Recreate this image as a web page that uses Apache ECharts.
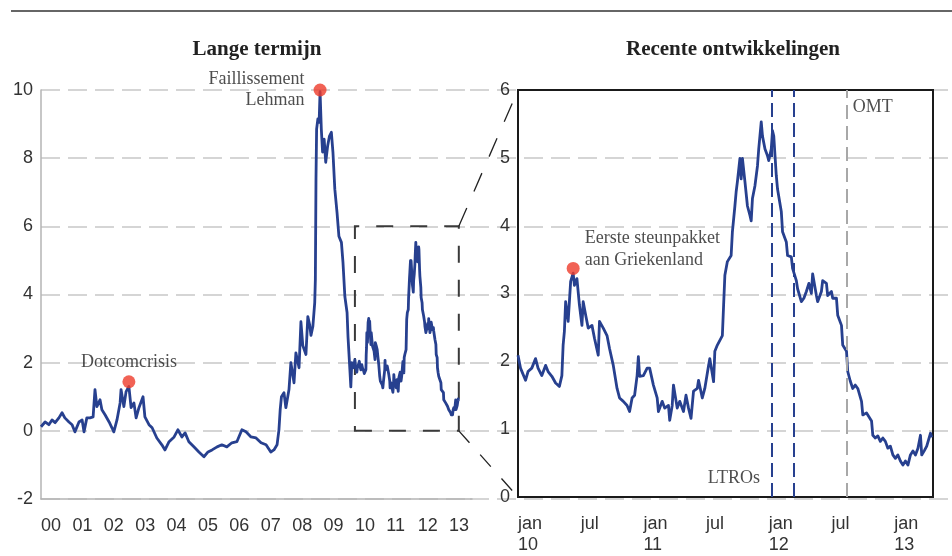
<!doctype html>
<html>
<head>
<meta charset="UTF-8">
<title>Spread</title>
<script src="https://cdn.jsdelivr.net/npm/echarts@6/dist/echarts.min.js"></script>
<style>
	html, body { margin: 0; padding: 0; background: #fff; }
	#main { width: 952px; height: 556px; }
</style>
</head>
<body>
<div id="main"></div>
<script>
// lange termijn: 2000 - 2009 (decimale jaren)
var earlyYears = [
	2000.00, 2000.13, 2000.25, 2000.35, 2000.45, 2000.57, 2000.67, 2000.76, 2000.89, 2000.99,
	2001.08, 2001.21, 2001.31, 2001.37, 2001.46, 2001.56, 2001.66, 2001.72, 2001.78, 2001.88, 2001.94,
	2002.04, 2002.17, 2002.26, 2002.32, 2002.42, 2002.52, 2002.55, 2002.64, 2002.71, 2002.80, 2002.87, 2002.96,
	2003.03, 2003.12, 2003.18, 2003.25, 2003.31, 2003.44, 2003.54, 2003.69, 2003.85, 2003.95,
	2004.08, 2004.24, 2004.36, 2004.49, 2004.59, 2004.71, 2004.87,
	2005.03, 2005.19, 2005.32, 2005.45, 2005.61, 2005.76, 2005.92,
	2006.08, 2006.24, 2006.40, 2006.53, 2006.69, 2006.85,
	2007.01, 2007.17, 2007.32, 2007.42, 2007.52, 2007.58, 2007.62, 2007.66, 2007.74, 2007.80, 2007.90, 2007.96,
	2008.06, 2008.12, 2008.22, 2008.28, 2008.34, 2008.44, 2008.50, 2008.56, 2008.60, 2008.66,
	2008.72, 2008.74, 2008.76, 2008.78, 2008.82, 2008.86, 2008.89, 2008.93, 2008.97,
	2009.02, 2009.07, 2009.13, 2009.19, 2009.25, 2009.30, 2009.36, 2009.43, 2009.49, 2009.57,
	2009.62, 2009.68, 2009.75, 2009.78, 2009.84, 2009.87, 2009.90, 2009.95
];
var earlyValues = [
	0.12, 0.26, 0.18, 0.32, 0.24, 0.38, 0.53, 0.38, 0.26, 0.18,
	-0.03, 0.26, 0.32, -0.03, 0.38, 0.38, 0.41, 1.21, 0.71, 0.91, 0.62,
	0.47, 0.26, 0.09, -0.03, 0.32, 0.82, 1.21, 0.71, 1.15, 1.30, 0.68, 0.82,
	0.38, 0.68, 0.71, 1.00, 0.41, 0.18, 0.09, -0.21, -0.41, -0.56,
	-0.32, -0.18, 0.03, -0.18, -0.06, -0.32, -0.47,
	-0.62, -0.76, -0.62, -0.56, -0.47, -0.41, -0.47,
	-0.35, -0.32, 0.03, -0.03, -0.18, -0.21,
	-0.35, -0.41, -0.62, -0.56, -0.41, 0.03, 0.62, 1.00, 1.12, 0.68, 1.21, 2.00,
	1.41, 2.29, 1.85, 3.20, 2.50, 2.24, 3.35, 3.10, 2.80, 3.06,
	3.76, 4.44, 7.38, 8.85, 9.15, 9.05, 9.95, 8.85, 8.18,
	8.56, 7.88, 8.35, 8.65, 8.76, 8.18, 7.09, 6.41, 5.71, 5.53,
	4.94, 3.94, 3.47, 2.76, 1.79, 1.29, 2.00, 1.85
];
// recente ontwikkelingen: 2010 - 2013
var recentYears = [
	2010.00, 2010.02, 2010.06, 2010.08, 2010.11, 2010.14, 2010.16, 2010.19, 2010.22, 2010.24,
	2010.27, 2010.30, 2010.33, 2010.35, 2010.36, 2010.37, 2010.38, 2010.40, 2010.41, 2010.42,
	2010.44, 2010.45, 2010.47, 2010.49, 2010.51, 2010.52, 2010.54, 2010.56, 2010.59, 2010.61,
	2010.64, 2010.65, 2010.68, 2010.71, 2010.73, 2010.76, 2010.79, 2010.81, 2010.84, 2010.87,
	2010.89, 2010.91, 2010.93, 2010.95, 2010.96, 2010.97, 2011.00, 2011.03, 2011.05, 2011.08,
	2011.11, 2011.12, 2011.15, 2011.17, 2011.20, 2011.21, 2011.23, 2011.24, 2011.27, 2011.29,
	2011.32, 2011.34, 2011.36, 2011.38, 2011.40, 2011.43, 2011.44, 2011.47, 2011.49, 2011.52,
	2011.53, 2011.56, 2011.57, 2011.59, 2011.63, 2011.64, 2011.65, 2011.67, 2011.70, 2011.71,
	2011.73, 2011.74, 2011.75, 2011.77, 2011.78, 2011.79, 2011.81, 2011.83, 2011.85, 2011.86,
	2011.87, 2011.89, 2011.91, 2011.92, 2011.94, 2011.95, 2011.97, 2011.99, 2012.00, 2012.02,
	2012.03, 2012.04, 2012.06, 2012.07, 2012.10, 2012.11, 2012.14, 2012.15, 2012.18, 2012.19,
	2012.22, 2012.23, 2012.26, 2012.28, 2012.30, 2012.32, 2012.34, 2012.35, 2012.38, 2012.39,
	2012.42, 2012.43, 2012.46, 2012.47, 2012.50, 2012.51, 2012.54, 2012.55, 2012.58, 2012.59,
	2012.62, 2012.63, 2012.65, 2012.67, 2012.69, 2012.71, 2012.74, 2012.75, 2012.78, 2012.79,
	2012.82, 2012.83, 2012.85, 2012.87, 2012.89, 2012.91, 2012.93, 2012.95, 2012.97, 2012.99,
	2013.01, 2013.03, 2013.05, 2013.07, 2013.09, 2013.11, 2013.13, 2013.15, 2013.17, 2013.19,
	2013.21, 2013.22, 2013.24, 2013.26, 2013.27, 2013.29, 2013.30
];
var recentValues = [
	2.09, 1.90, 1.72, 1.85, 1.90, 2.04, 1.90, 1.79, 1.94, 1.85,
	1.78, 1.68, 1.63, 1.79, 2.24, 2.44, 2.88, 2.59, 2.88, 3.18,
	3.30, 3.12, 3.22, 2.83, 2.53, 2.88, 2.68, 2.49, 2.53, 2.34,
	2.09, 2.59, 2.49, 2.38, 2.19, 1.94, 1.60, 1.46, 1.41, 1.35,
	1.26, 1.46, 1.50, 1.79, 2.07, 1.78, 1.79, 1.90, 1.90, 1.65,
	1.46, 1.26, 1.41, 1.31, 1.35, 1.13, 1.35, 1.65, 1.31, 1.41,
	1.26, 1.50, 1.31, 1.16, 1.56, 1.60, 1.72, 1.46, 1.60, 1.94,
	2.04, 1.70, 2.15, 2.24, 2.38, 2.83, 3.27, 3.47, 3.56, 3.91,
	4.29, 4.50, 4.65, 4.99, 4.69, 4.99, 4.65, 4.29, 4.15, 4.07,
	4.40, 4.59, 4.88, 5.13, 5.53, 5.32, 5.13, 5.03, 4.96, 5.13,
	5.40, 5.32, 4.74, 4.54, 4.21, 3.91, 3.76, 3.56, 3.54, 3.37,
	3.19, 3.07, 2.88, 2.93, 3.03, 3.15, 3.00, 3.29, 2.97, 2.88,
	3.03, 3.19, 3.15, 2.97, 3.03, 2.93, 2.93, 2.68, 2.53, 2.24,
	2.15, 1.85, 1.71, 1.60, 1.65, 1.60, 1.41, 1.21, 1.24, 1.21,
	1.12, 0.91, 0.87, 0.90, 0.82, 0.87, 0.82, 0.72, 0.75, 0.62,
	0.57, 0.62, 0.53, 0.47, 0.53, 0.47, 0.62, 0.68, 0.62, 0.72,
	0.91, 0.62, 0.68, 0.75, 0.77, 0.94, 0.88
];
var yearLabels = ['00', '01', '02', '03', '04', '05', '06', '07', '08', '09', '10', '11', '12', '13'];
var recentLabels = ['jan\n10', 'jul', 'jan\n11', 'jul', 'jan\n12', 'jul', 'jan\n13'];
var ltroDates = [2012.02, 2012.20];
var omtDate = 2012.62;
var lehmanPoint = [2008.89, 10.0];
var dotcomPoint = [2002.80, 1.44];
var greecePoint = [2010.44, 3.37];
var zoomBox = [2010, 2013.31, 0, 6];

function zip(xs, ys) {
	var out = [];
	for (var i = 0; i < Math.min(xs.length, ys.length); i++) out.push([xs[i], ys[i]]);
	return out;
}

var lineColor = '#27408f';
var dotColor = '#ee3b2b';
var gridColor = '#c8c8c8';
var sans = 'Liberation Sans, Arial, sans-serif';
var serif = 'Liberation Serif, Times New Roman, serif';

var tickLabel = {
	fontFamily: sans, fontSize: 18, color: '#333'
};

var chart = echarts.init(document.getElementById('main'));

var option = {
	animation: false,
	backgroundColor: '#fff',
	grid: [
		{ left: 41, top: 90, width: 431, height: 409 },
		{ left: 470, top: 90, width: 479, height: 409 },
		{ left: 518, top: 90, width: 415, height: 409, show: true, borderColor: '#1a1a1a', borderWidth: 2, backgroundColor: 'transparent', z: 3 }
	],
	xAxis: [{
		gridIndex: 0, type: 'value', min: 2000, max: 2013.73, interval: 1,
		axisLine: { onZero: false, lineStyle: { color: '#b4b4b4', width: 1.5 } },
		axisTick: { show: false },
		splitLine: { show: false },
		axisLabel: Object.assign({}, tickLabel, {
			align: 'left', margin: 17, lineHeight: 21, showMaxLabel: false,
			formatter: function (v) { return yearLabels[Math.round(v - 2000)] || ''; }
		})
	}, {
		gridIndex: 1, type: 'value', min: 0, max: 1, show: false
	}, {
		gridIndex: 2, type: 'value', min: 2010, max: 2013.31, interval: 0.5,
		axisLine: { show: false, onZero: false },
		axisTick: { show: false },
		splitLine: { show: false },
		axisLabel: Object.assign({}, tickLabel, {
			align: 'left', margin: 17, lineHeight: 21, showMaxLabel: false,
			formatter: function (v) { return recentLabels[Math.round((v - 2010) * 2)] || ''; }
		})
	}],
	yAxis: [{
		gridIndex: 0, type: 'value', min: -2, max: 10, interval: 2,
		axisLine: { show: true, lineStyle: { color: '#b4b4b4', width: 1.5 } },
		axisTick: { show: false },
		splitLine: { lineStyle: { color: gridColor, width: 1.5, type: [19, 8] } },
		axisLabel: Object.assign({}, tickLabel, { margin: 8, padding: [0, 0, 11, 0] })
	}, {
		gridIndex: 1, type: 'value', min: 0, max: 6, interval: 1,
		axisLine: { show: false }, axisTick: { show: false }, axisLabel: { show: false },
		splitLine: { lineStyle: { color: gridColor, width: 1.5, type: [19, 8] } }
	}, {
		gridIndex: 2, type: 'value', min: 0, max: 6, interval: 1,
		axisLine: { show: false }, axisTick: { show: false },
		splitLine: { show: false },
		axisLabel: Object.assign({}, tickLabel, { margin: 8, padding: [0, 0, 11, 0] })
	}],
	series: [{
		// lange termijn
		type: 'line', xAxisIndex: 0, yAxisIndex: 0,
		data: zip(earlyYears, earlyValues).concat(zip(recentYears, recentValues)),
		showSymbol: false, silent: true, z: 4,
		lineStyle: { color: lineColor, width: 2.8, join: 'round' },
		markArea: {
			silent: true,
			itemStyle: { color: 'rgba(0,0,0,0)', borderColor: '#3a3a3a', borderWidth: 2, borderType: [17, 17] },
			data: [[{ xAxis: zoomBox[0], yAxis: zoomBox[2] }, { xAxis: zoomBox[1], yAxis: zoomBox[3] }]]
		}
	}, {
		type: 'scatter', xAxisIndex: 0, yAxisIndex: 0, z: 6,
		symbolSize: 13, itemStyle: { color: dotColor },
		label: { show: true, fontFamily: serif, fontSize: 18, color: '#222', lineHeight: 21 },
		data: [
			{ value: lehmanPoint, label: { formatter: 'Faillissement\nLehman', position: 'left', distance: 9 } },
			{ value: dotcomPoint, label: { formatter: 'Dotcomcrisis', position: 'top', distance: 2 } }
		]
	}, {
		// recente ontwikkelingen
		type: 'line', xAxisIndex: 2, yAxisIndex: 2,
		data: zip(recentYears, recentValues),
		showSymbol: false, silent: true, z: 4,
		lineStyle: { color: lineColor, width: 2.8, join: 'round' },
		markLine: {
			silent: true, symbol: 'none', label: { show: false },
			data: [
				{ xAxis: ltroDates[0], lineStyle: { color: lineColor, width: 2, type: [14, 6] } },
				{ xAxis: ltroDates[1], lineStyle: { color: lineColor, width: 2, type: [14, 6] } },
				{ xAxis: omtDate, lineStyle: { color: '#a8a8a8', width: 2, type: [14, 7] } }
			]
		}
	}, {
		type: 'scatter', xAxisIndex: 2, yAxisIndex: 2, z: 6,
		symbolSize: 13, itemStyle: { color: dotColor },
		label: {
			show: true, fontFamily: serif, fontSize: 18, color: '#222', lineHeight: 22,
			formatter: 'Eerste steunpakket\naan Griekenland', position: [18, -35], align: 'left', verticalAlign: 'top'
		},
		data: [greecePoint]
	}, {
		type: 'scatter', xAxisIndex: 2, yAxisIndex: 2, z: 6, silent: true,
		symbolSize: 0,
		label: { show: true, fontFamily: serif, fontSize: 18, color: '#222' },
		data: [
			{ value: [2011.93, 0.28], label: { formatter: 'LTROs', position: 'left', distance: 0 } },
			{ value: [2012.67, 5.75], label: { formatter: 'OMT', position: 'right', distance: 0 } }
		]
	}]
};
chart.setOption(option);

// verbindingslijnen tussen het kader links en het rechterpaneel
var topFrom = chart.convertToPixel({ gridIndex: 0 }, [zoomBox[1], zoomBox[3]]);
var topTo = chart.convertToPixel({ gridIndex: 2 }, [zoomBox[0], zoomBox[3]]);
var botFrom = chart.convertToPixel({ gridIndex: 0 }, [zoomBox[1], zoomBox[2]]);
var botTo = chart.convertToPixel({ gridIndex: 2 }, [zoomBox[0], zoomBox[2]]);

var titleFont = { fontFamily: serif, fontSize: 21, fontWeight: 'bold', fill: '#222', textAlign: 'center', textVerticalAlign: 'middle' };

chart.setOption({
	graphic: [
		{ type: 'line', silent: true, shape: { x1: 11, y1: 11, x2: 952, y2: 11 }, style: { stroke: '#333', lineWidth: 1.5 } },
		{ type: 'text', silent: true, x: 257, y: 50, style: Object.assign({ text: 'Lange termijn' }, titleFont) },
		{ type: 'text', silent: true, x: 733, y: 50, style: Object.assign({ text: 'Recente ontwikkelingen' }, titleFont) },
		{ type: 'line', silent: true, z: 10, shape: { x1: topFrom[0], y1: topFrom[1], x2: topTo[0], y2: topTo[1] }, style: { stroke: '#222', lineWidth: 1.3, lineDash: [20, 18] } },
		{ type: 'line', silent: true, z: 10, shape: { x1: botFrom[0], y1: botFrom[1], x2: botTo[0], y2: botTo[1] }, style: { stroke: '#222', lineWidth: 1.3, lineDash: [16, 16] } }
	]
});
</script>
</body>
</html>
